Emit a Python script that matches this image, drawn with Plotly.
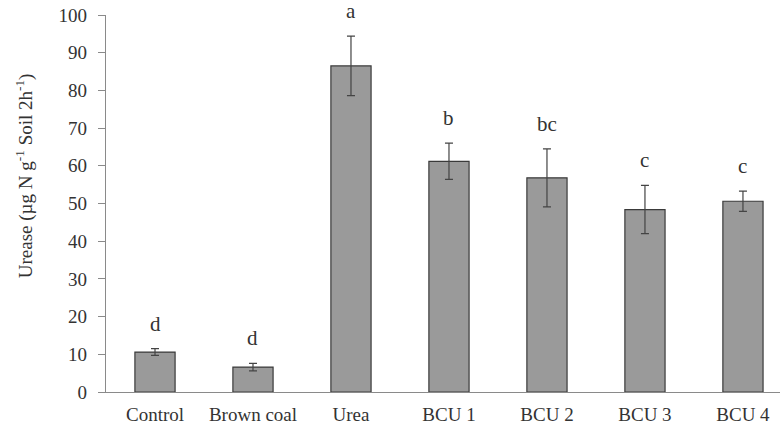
import plotly.graph_objects as go

categories = ["Control", "Brown coal", "Urea", "BCU 1", "BCU 2", "BCU 3", "BCU 4"]
urease = [10.6, 6.6, 86.5, 61.2, 56.8, 48.4, 50.6]
errors = [0.9, 1.0, 7.9, 4.8, 7.7, 6.4, 2.7]
letters = ["d", "d", "a", "b", "bc", "c", "c"]
y_ticks = [0, 10, 20, 30, 40, 50, 60, 70, 80, 90, 100]
y_title = "Urease (µg N g<sup>-1</sup> Soil 2h<sup>-1</sup>)"

FONT = "Liberation Serif, Times New Roman, serif"
TXT = "#333333"

fig = go.Figure()
fig.add_trace(go.Bar(
    x=categories, y=urease,
    marker=dict(color="#9a9a9a", line=dict(color="#3a3a3a", width=1.2)),
    error_y=dict(type="data", array=errors, visible=True,
                 color="#444444", thickness=1.2, width=4),
    showlegend=False,
))

for c, v, e, l in zip(categories, urease, errors, letters):
    fig.add_annotation(x=c, y=v + e, text=l, showarrow=False,
                       yanchor="middle", yshift=25,
                       font=dict(family=FONT, size=21, color=TXT))

fig.add_annotation(text=y_title, xref="paper", yref="paper",
                   x=-0.1217, y=0.575, xanchor="center", yanchor="middle",
                   textangle=-90, showarrow=False,
                   font=dict(family=FONT, size=19, color=TXT))

fig.update_layout(
    width=780, height=427,
    margin=dict(l=106, r=0, t=15, b=35),
    paper_bgcolor="white", plot_bgcolor="white",
    bargap=0.59,
    font=dict(family=FONT, size=18, color=TXT),
    xaxis=dict(range=[-0.5, 6.378], showline=True, linecolor="#8a8a8a",
               linewidth=1.2, ticks="", showgrid=False, zeroline=False,
               ticklabelstandoff=5,
               tickfont=dict(family=FONT, size=19, color=TXT)),
    yaxis=dict(range=[0, 100], tickvals=y_ticks, showline=True,
               linecolor="#8a8a8a", linewidth=1.2, ticks="outside",
               ticklen=7, tickcolor="#8a8a8a", showgrid=False, zeroline=False,
               ticklabelstandoff=7,
               tickfont=dict(family=FONT, size=19, color=TXT)),
)

fig.write_html("out.html", config={"displayModeBar": False},
               post_script="document.body.style.margin='0';")
